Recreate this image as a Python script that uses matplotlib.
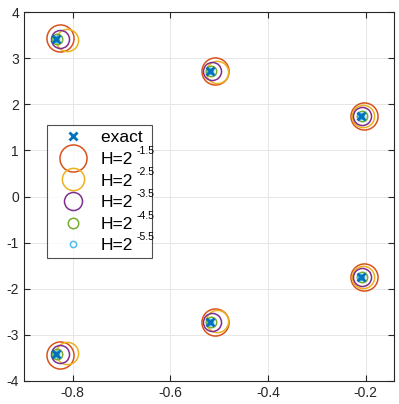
import matplotlib
matplotlib.use("Agg")
import matplotlib.pyplot as plt

plt.rcParams['font.family'] = ['Liberation Sans', 'DejaVu Sans']

# exact eigenvalues (upper half plane)
exact_re = [-0.835, -0.518, -0.209]
exact_im = [3.41, 2.72, 1.75]

# approximations for each step size H (upper half plane)
labels = ['-1.5', '-2.5', '-3.5', '-4.5', '-5.5']
approx_re = [
    [-0.827, -0.508, -0.204],
    [-0.811, -0.504, -0.205],
    [-0.827, -0.515, -0.207],
    [-0.833, -0.517, -0.208],
    [-0.835, -0.518, -0.209],
]
approx_im = [
    [3.43, 2.72, 1.75],
    [3.39, 2.71, 1.75],
    [3.41, 2.72, 1.75],
    [3.41, 2.72, 1.75],
    [3.41, 2.72, 1.75],
]
colors = ['#D95319', '#EDB120', '#7E2F8E', '#77AC30', '#4DBEEE']
msizes = [19.5, 16, 13, 7.5, 4.5]

fig = plt.figure(figsize=(3.99, 4.04), dpi=100)
ax = fig.add_axes([0.060, 0.057, 0.927, 0.913])

handles = []
for re, im, c, ms in zip(approx_re, approx_im, colors, msizes):
    xs = re + re
    ys = im + [-v for v in im]
    h, = ax.plot(xs, ys, 'o', ls='none', mfc='none', mec=c, ms=ms, mew=1.1)
    handles.append(h)

ex_x = exact_re + exact_re
ex_y = exact_im + [-v for v in exact_im]
hx, = ax.plot(ex_x, ex_y, 'x', ls='none', color='#0072BD', ms=5.5, mew=2,
              zorder=5)

ax.set_xlim(-0.9, -0.142)
ax.set_ylim(-4, 4)
ax.set_xticks([-0.8, -0.6, -0.4, -0.2])
ax.set_xticklabels(['-0.8', '-0.6', '-0.4', '-0.2'])
ax.set_yticks(range(-4, 5))
ax.set_yticklabels([str(v) for v in range(-4, 5)])
ax.grid(True, color='#E6E6E6', lw=0.7)
ax.set_axisbelow(True)
for s in ax.spines.values():
    s.set_color('#262626')
    s.set_linewidth(0.8)
ax.tick_params(direction='in', length=4, top=True, right=True, labelsize=10,
               colors='#262626', width=0.8)

leg_labels = ['exact '] + ['H=2'] * len(labels)
leg = ax.legend([hx] + handles, leg_labels,
                loc='upper left', bbox_to_anchor=(0.062, 0.694), fontsize=12.5,
                frameon=True, fancybox=False, edgecolor='#262626',
                labelspacing=0.37, handlelength=2.4, handletextpad=0.4,
                borderpad=0.3, borderaxespad=0)
leg.get_frame().set_linewidth(0.8)

# superscript exponents next to each "H=2"
for t, lab in zip(leg.get_texts()[1:], labels):
    ax.annotate(lab, xy=(0, 1), xycoords=t, xytext=(25.5, -2.8),
                textcoords='offset points', fontsize=7.5, va='bottom',
                ha='left', color='black', zorder=10)

fig.savefig('out.png', dpi=100)
